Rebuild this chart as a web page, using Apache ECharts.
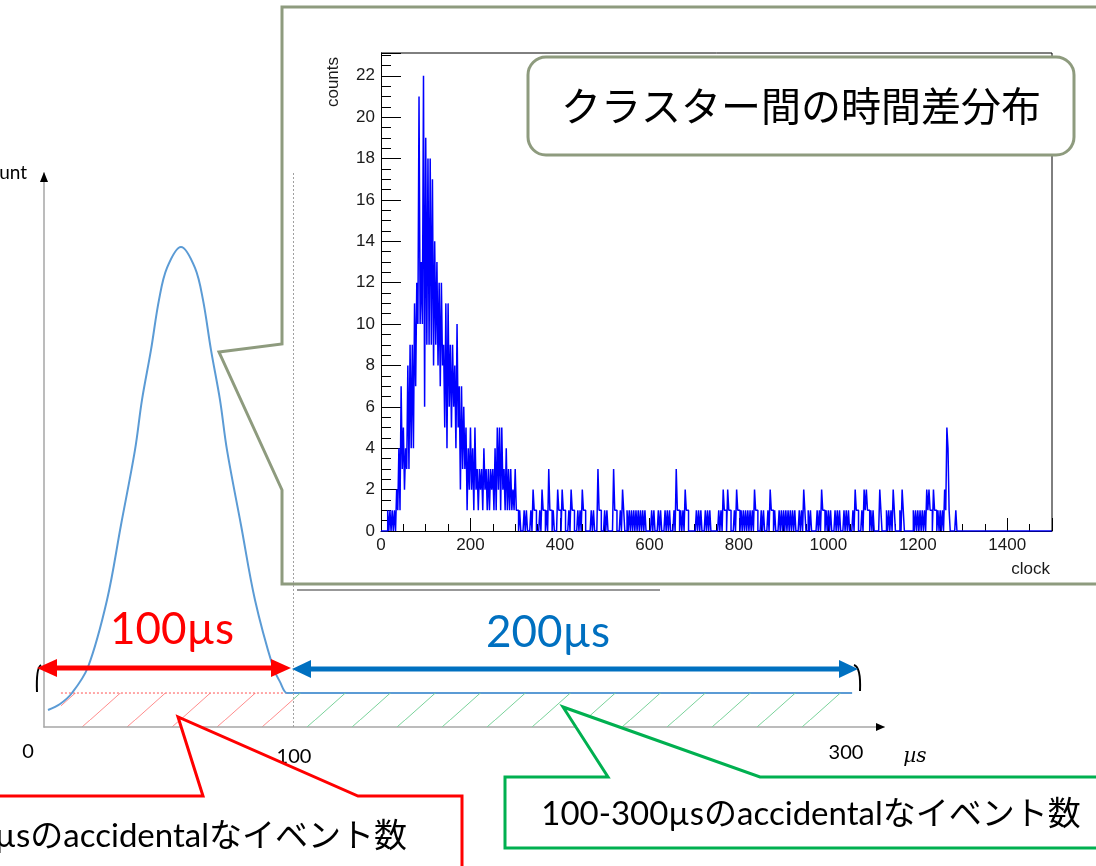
<!DOCTYPE html>
<html>
<head>
<meta charset="utf-8">
<script src="https://cdn.jsdelivr.net/npm/echarts@6/dist/echarts.min.js"></script>
<style>html,body{margin:0;padding:0;background:#fff}#c{width:1096px;height:866px}</style>
</head>
<body>
<div id="c"></div>
<script>
// ---------- DATA ----------
// ROOT histogram in 2.5-clock half bins:
// histCountsA = first half of each 5-clock slot, histCountsB = second half.
const HALF_BIN = 2.5;
const histCountsA = [
  0,0,0,1,1,1,1,2,4,7,  5,4,8,9,9,11,12,21,13,22,
  19,18,18,17,14,13,12,12,9,11,  11,9,9,8,10,7,7,6,5,4,
  5,4,5,3,3,3,4,3,3,3,  3,4,5,5,5,3,4,3,3,2,
  3,1,1,0,1,1,0,1,2,1,  0,1,2,1,1,3,1,1,0,2,
  1,2,1,0,1,2,1,0,1,1,  2,1,0,0,1,1,0,3,1,0,
  1,1,0,0,3,1,0,1,2,0,  1,1,1,1,1,1,1,1,1,0,
  0,1,1,0,1,1,0,1,1,1,  0,1,3,1,1,1,2,1,0,0,
  0,1,1,1,0,1,1,1,0,0,  0,1,1,2,1,2,1,0,1,2,
  1,1,1,1,1,1,1,2,1,0,  1,1,0,1,2,1,1,0,1,1,
  1,1,1,1,1,1,0,1,1,2,  0,1,1,0,0,1,1,2,1,1,
  1,1,0,1,1,1,0,1,1,1,  0,1,2,1,0,1,2,2,1,1,
  1,0,0,2,0,0,1,1,1,2,  0,0,1,2,0,0,0,0,1,1,
  1,1,1,1,2,2,1,2,1,1,  1,1,2,5,1,0,0,1,0
];
const histCountsB = [
  0,0,0,0,0,0,0,1,1,3,  2,3,3,4,4,7,10,10,10,6,
  9,9,9,8,9,8,7,8,5,4,  6,5,6,4,5,2,3,3,1,2,
  2,1,2,1,2,1,2,1,1,2,  1,1,2,1,2,1,1,1,1,1,
  1,0,0,0,0,0,0,0,1,0,  0,0,1,0,0,1,0,0,0,1,
  0,1,0,0,0,1,0,0,0,0,  1,0,0,0,0,0,0,1,0,0,
  0,0,0,0,1,0,0,0,1,0,  0,0,0,0,0,0,0,0,0,0,
  0,0,0,0,0,0,0,0,0,0,  0,0,1,0,0,0,1,0,0,0,
  0,0,0,0,0,0,0,0,0,0,  0,0,0,1,0,1,0,0,0,1,
  0,0,0,0,0,0,0,1,0,0,  0,0,0,0,1,0,0,0,0,0,
  0,0,0,0,0,0,0,0,0,1,  0,0,0,0,0,0,0,1,0,0,
  0,0,0,0,0,0,0,0,0,0,  0,0,1,0,0,0,1,1,0,0,
  0,0,0,1,0,0,0,0,0,1,  0,0,0,1,0,0,0,0,0,0,
  0,0,0,0,1,1,0,1,0,0,  0,0,1,4,0,0,0,0,0
];
const HIST_X_MAX = 1500;
const HIST_X_STEP = 200;
const HIST_Y_MAX = 23.1;
const HIST_Y_STEP = 2;
const histTitle = 'クラスター間の時間差分布';
const histXName = 'clock';
const histYName = 'counts';

// Schematic: time difference (µs) vs count (arbitrary units)
const pulseUs    = [12.37,16.67,20.96,26.68,33.48,38.48,43.49,45.99,49.21,52.07,54.93,59.94,64.95,67.81,70.67,73.89,76.39,81.4,86.41,92.85,95.35,97.85,100];
const pulseCount = [3.54,4.79,7.08,12.5,26.46,42.08,57.71,68.13,78.54,88.96,95.63,100,95.63,88.96,78.54,68.13,57.71,42.08,26.46,12.5,9.4,7.08,7.08];
const flatUs     = [100, 300];
const flatCount  = [7.08, 7.08];
const redWindowUs   = [17, 100];
const greenWindowUs = [100, 297];
const accidentalLevel = 7.08;
const schemTickLabels = ['0', '100', '300'];
const schemUnit = 'µs';
const schemYName = 'count';
const windowLabels = ['100µs', '200µs'];
const calloutTexts = ['0-100µsのaccidentalなイベント数', '100-300µsのaccidentalなイベント数'];

// ---------- helpers ----------
function hatch(color){
  const c = document.createElement('canvas');
  c.width = 45; c.height = 40;
  const g = c.getContext('2d');
  g.strokeStyle = color; g.lineWidth = 1;
  g.beginPath(); g.moveTo(-1, 41); g.lineTo(46, -1); g.stroke();
  return c;
}
const histData = [];
histCountsA.forEach((a, i) => {
  histData.push([i * 2 * HALF_BIN, a]);
  histData.push([(i * 2 + 1) * HALF_BIN, histCountsB[i]]);
});
histData.push([histCountsA.length * 2 * HALF_BIN, 0], [HIST_X_MAX, 0]);

const pulseData = pulseUs.map((x, i) => [x, pulseCount[i]]);
const flatData = flatUs.map((x, i) => [x, flatCount[i]]);

const OLIVE = '#8e9b7e';
const LATIN = "Lato, 'Noto Sans CJK JP', sans-serif";
const JP = "Lato, 'Noto Sans CJK JP', sans-serif";
const ROOTFONT = "'Liberation Sans', Arial, sans-serif";

const fmt = step => v => (Math.abs(v / step - Math.round(v / step)) < 1e-6 ? String(Math.round(v)) : '');

const chart = echarts.init(document.getElementById('c'), null, {renderer: 'canvas'});
const option = {
  animation: false,
  backgroundColor: '#ffffff',
  grid: [
    {left: 44, top: 173, right: 212, bottom: 139},
    {left: 381, top: 53, right: 44, bottom: 335}
  ],
  xAxis: [
    {gridIndex: 0, type: 'value', min: 10.94, max: 311.4, z: 1,
     axisLine: {show: true, onZero: false, lineStyle: {color: '#a6a6a6', width: 1.5}},
     axisTick: {show: false}, axisLabel: {show: false}, splitLine: {show: false}},
    {gridIndex: 1, type: 'value', min: 0, max: HIST_X_MAX, interval: HIST_X_STEP, z: 10,
     axisLine: {show: true, onZero: false, lineStyle: {color: '#000', width: 1}},
     axisTick: {show: true, inside: true, length: 13, lineStyle: {color: '#000'}},
     minorTick: {show: true, splitNumber: 4, length: 7, lineStyle: {color: '#000'}},
     axisLabel: {color: '#1a1a1a', fontSize: 17, fontFamily: ROOTFONT, margin: 6, formatter: fmt(HIST_X_STEP)},
     splitLine: {show: false}}
  ],
  yAxis: [
    {gridIndex: 0, type: 'value', min: 0, max: 115.4, z: 1,
     axisLine: {show: true, onZero: false, lineStyle: {color: '#a6a6a6', width: 1.5}},
     axisTick: {show: false}, axisLabel: {show: false}, splitLine: {show: false}},
    {gridIndex: 1, type: 'value', min: 0, max: HIST_Y_MAX, interval: HIST_Y_STEP, z: 10,
     axisLine: {show: true, onZero: false, lineStyle: {color: '#000', width: 1}},
     axisTick: {show: true, inside: true, length: 20, lineStyle: {color: '#000'}},
     minorTick: {show: true, splitNumber: 4, length: 10, lineStyle: {color: '#000'}},
     axisLabel: {color: '#1a1a1a', fontSize: 17, fontFamily: ROOTFONT, margin: 6, formatter: fmt(HIST_Y_STEP)},
     splitLine: {show: false}}
  ],
  series: [
    {name: 'window0-100', type: 'line', xAxisIndex: 0, yAxisIndex: 0, z: 1,
     data: redWindowUs.map(x => [x, accidentalLevel]), showSymbol: false,
     lineStyle: {color: '#ff5050', width: 1, type: [2, 2]},
     areaStyle: {color: {image: hatch('#ff8c8c'), repeat: 'repeat'}, opacity: 1}},
    {name: 'window100-300', type: 'line', xAxisIndex: 0, yAxisIndex: 0, z: 8,
     data: greenWindowUs.map(x => [x, accidentalLevel]), showSymbol: false,
     lineStyle: {width: 0},
     areaStyle: {color: {image: hatch('#79d29a'), repeat: 'repeat'}, opacity: 1},
     markLine: {silent: true, symbol: 'none', label: {show: false},
       lineStyle: {color: '#a0a0a0', type: [2, 2], width: 1},
       data: [{xAxis: 100}]}},
    {name: 'pulse', type: 'line', xAxisIndex: 0, yAxisIndex: 0, z: 3,
     data: pulseData, smooth: 0.35, showSymbol: false,
     lineStyle: {color: '#5b9bd5', width: 2}},
    {name: 'flat', type: 'line', xAxisIndex: 0, yAxisIndex: 0, z: 3,
     data: flatData, showSymbol: false,
     lineStyle: {color: '#5b9bd5', width: 2}},
    {name: 'hist', type: 'line', xAxisIndex: 1, yAxisIndex: 1, z: 10,
     data: histData, step: 'end', showSymbol: false, clip: true,
     lineStyle: {color: '#0000ff', width: 1.5}}
  ],
  graphic: {elements: [
    // inset callout box
    {type: 'polygon', z: 5, shape: {points: [[282,7],[1100,7],[1100,584],[282,584],[282,490],[219,352],[282,344]]},
     style: {fill: '#fff', stroke: OLIVE, lineWidth: 3}},
    // histogram frame (top & right)
    {type: 'polyline', z: 11, shape: {points: [[381,53],[1052,53],[1052,531]]},
     style: {stroke: '#000', lineWidth: 1, fill: null}},
    {type: 'text', z: 11, x: 333, y: 82, rotation: Math.PI / 2,
     style: {text: histYName, fontSize: 17, fontFamily: ROOTFONT, fill: '#1a1a1a', align: 'center', verticalAlign: 'middle'}},
    {type: 'text', z: 11, x: 1050, y: 569,
     style: {text: histXName, fontSize: 17, fontFamily: ROOTFONT, fill: '#1a1a1a', align: 'right', verticalAlign: 'middle'}},
    // title box
    {type: 'rect', z: 12, shape: {x: 528, y: 57, width: 546, height: 98, r: 18},
     style: {fill: '#fff', stroke: OLIVE, lineWidth: 3}},
    {type: 'text', z: 13, x: 801, y: 106,
     style: {text: histTitle, fontSize: 40, fontFamily: "'Noto Sans CJK JP'", fill: '#000', align: 'center', verticalAlign: 'middle'}},
    // thin line below inset
    {type: 'line', z: 6, shape: {x1: 297, y1: 590, x2: 660, y2: 590}, style: {stroke: '#333', lineWidth: 1.2}},
    // schematic axis arrowheads
    {type: 'polygon', z: 4, shape: {points: [[44,172],[40,182],[48,182]]}, style: {fill: '#000'}},
    {type: 'polygon', z: 4, shape: {points: [[885,727],[876,723],[876,731]]}, style: {fill: '#000'}},
    // schematic labels
    {type: 'text', z: 4, x: 27, y: 173, style: {text: schemYName, fontSize: 19, fontFamily: LATIN, fill: '#000', align: 'right', verticalAlign: 'middle'}},
    {type: 'text', z: 4, x: 28, y: 752, style: {text: schemTickLabels[0], fontSize: 20, fontFamily: LATIN, fill: '#000', align: 'center', verticalAlign: 'middle'}},
    {type: 'text', z: 4, x: 294, y: 757, style: {text: schemTickLabels[1], fontSize: 20, fontFamily: LATIN, fill: '#000', align: 'center', verticalAlign: 'middle'}},
    {type: 'text', z: 4, x: 846, y: 753, style: {text: schemTickLabels[2], fontSize: 20, fontFamily: LATIN, fill: '#000', align: 'center', verticalAlign: 'middle'}},
    {type: 'text', z: 4, x: 915, y: 757, style: {text: schemUnit, fontSize: 20, fontStyle: 'italic', fontFamily: "'DejaVu Serif', serif", fill: '#000', align: 'center', verticalAlign: 'middle'}},
    // brackets
    {type: 'bezierCurve', z: 4, shape: {x1: 41, y1: 665, x2: 37, y2: 692, cpx1: 36, cpy1: 668}, style: {stroke: '#000', lineWidth: 2, fill: null}},
    {type: 'bezierCurve', z: 4, shape: {x1: 854, y1: 665, x2: 860, y2: 691, cpx1: 861, cpy1: 667}, style: {stroke: '#000', lineWidth: 2, fill: null}},
    // red arrow
    {type: 'line', z: 7, shape: {x1: 54, y1: 668, x2: 274, y2: 668}, style: {stroke: '#ff0000', lineWidth: 5}},
    {type: 'polygon', z: 7, shape: {points: [[37,668],[57,659],[57,677]]}, style: {fill: '#ff0000'}},
    {type: 'polygon', z: 7, shape: {points: [[291,668],[271,659],[271,677]]}, style: {fill: '#ff0000'}},
    // blue arrow
    {type: 'line', z: 7, shape: {x1: 308, y1: 669, x2: 842, y2: 669}, style: {stroke: '#0070c0', lineWidth: 5}},
    {type: 'polygon', z: 7, shape: {points: [[292,669],[311,660],[311,678]]}, style: {fill: '#0070c0'}},
    {type: 'polygon', z: 7, shape: {points: [[858,669],[839,660],[839,678]]}, style: {fill: '#0070c0'}},
    {type: 'text', z: 7, x: 172, y: 630, style: {text: windowLabels[0], fontSize: 44, fontFamily: LATIN, fill: '#ff0000', align: 'center', verticalAlign: 'middle'}},
    {type: 'text', z: 7, x: 548, y: 633, style: {text: windowLabels[1], fontSize: 44, fontFamily: LATIN, fill: '#0070c0', align: 'center', verticalAlign: 'middle'}},
    // red callout
    {type: 'polygon', z: 20, shape: {points: [[-10,796],[203,796],[178,717],[358,796],[462,796],[462,880],[-10,880]]},
     style: {fill: '#fff', stroke: '#ff0000', lineWidth: 3}},
    {type: 'text', z: 21, x: 407, y: 836, style: {text: calloutTexts[0], fontSize: 33, fontFamily: JP, fill: '#000', align: 'right', verticalAlign: 'middle'}},
    // green callout
    {type: 'polygon', z: 20, shape: {points: [[505,777],[608,777],[563,707],[760,777],[1100,777],[1100,848],[505,848]]},
     style: {fill: '#fff', stroke: '#00b050', lineWidth: 3}},
    {type: 'text', z: 21, x: 811, y: 814, style: {text: calloutTexts[1], fontSize: 33, fontFamily: JP, fill: '#000', align: 'center', verticalAlign: 'middle'}}
  ]}
};
chart.setOption(option);
</script>
</body>
</html>
